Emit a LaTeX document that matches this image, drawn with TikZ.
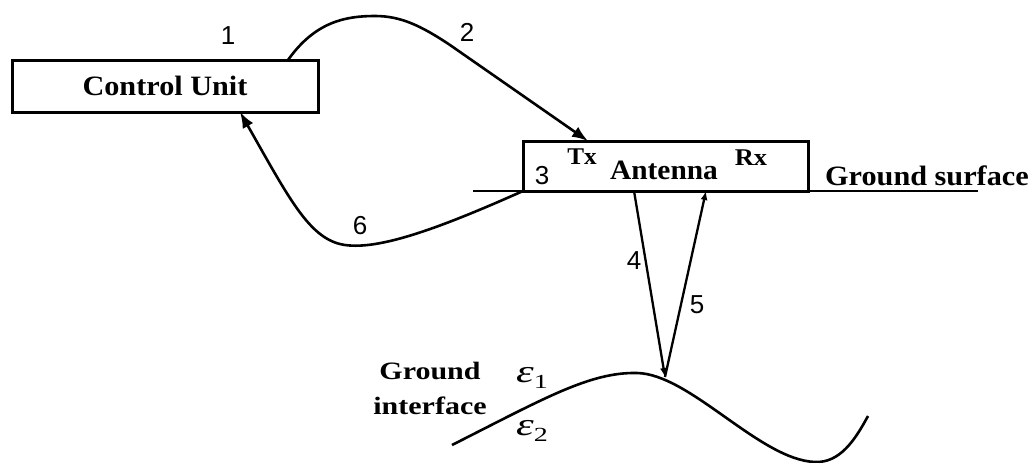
\documentclass[tikz,border=0pt]{standalone}
\usepackage{fontspec}
\setmainfont{Liberation Serif}
\newfontfamily\digitfont{Liberation Sans}
\usetikzlibrary{arrows.meta}
\newcommand{\wide}[2]{\scalebox{#1}[1]{#2}}
\newcommand{\perm}[1]{{\itshape ε}\raisebox{-6pt}{\fontsize{20}{22}\selectfont #1}}

\begin{document}
\begin{tikzpicture}[
    x=1pt, y=-1pt,
    wire/.style={draw=black, line width=2.6pt},
    sig/.style={wire, -{Latex[length=16pt,width=12pt]}},
    ray/.style={draw=black, line width=2.3pt, -{Latex[length=9pt,width=7pt]}},
    unit/.style={draw=black, line width=3pt, fill=white, outer sep=0pt, inner sep=0pt},
    head/.style={font=\fontsize{28}{32}\selectfont\bfseries},
    small/.style={font=\fontsize{24}{28}\selectfont\bfseries, inner sep=0pt},
    num/.style={font=\digitfont\fontsize{26}{30}\selectfont, inner sep=0pt},
    eps/.style={font=\fontsize{32}{36}\selectfont, inner sep=0pt, anchor=base west},
  ]
  \useasboundingbox (0,0) rectangle (1036,463);

  %% ground surface and the two units
  \coordinate (gsL) at (473,191);
  \coordinate (gsR) at (978,191);
  \draw[wire] (gsL) -- (gsR);
  \node[unit, head, minimum width=306pt, minimum height=52pt] (cu) at (165,86) {\wide{1.08}{Control Unit}};
  \node[unit, minimum width=285pt, minimum height=50pt] (ant) at (665.5,166) {};
  \node[head, inner sep=0pt, anchor=base] (antlbl) at (664,179) {\wide{1.05}{Antenna}};
  \node[small, anchor=base] (tx) at (582,164) {\wide{1.05}{Tx}};
  \node[small, anchor=base] (rx) at (751,165) {\wide{1.1}{Rx}};
  \node[head, inner sep=0pt, anchor=base west] (gslbl) at (825,185) {\wide{1.08}{Ground surface}};

  %% control unit -> antenna -> control unit
  \coordinate (cuout) at ([xshift=-30pt]cu.north east);
  \coordinate (antin) at ([xshift=65pt]ant.north west);
  \coordinate (cuin) at ([xshift=-78pt]cu.south east);
  \draw[sig] (cuout) .. controls (315,22) and (345,16) .. (375,16)
    .. controls (400,16) and (420,25) .. (450,45) -- (antin);
  \draw[sig] (ant.south west) .. controls (440,228) and (380,250) .. (345,245)
    .. controls (310,240) and (290,200) .. (cuin);

  %% down to the interface and back up
  \coordinate (refl) at (665,377);
  \coordinate (txpt) at ([xshift=-31.5pt]ant.south);
  \coordinate (rxpt) at ([xshift=40.5pt]ant.south);
  \draw[ray] (txpt) -- (refl);
  \draw[ray] (refl) -- (rxpt);

  %% ground interface
  \coordinate (giL) at (452,445);
  \coordinate (giR) at (868,416);
  \draw[wire] (giL) .. controls (545,398) and (590,372) .. (637,373)
    .. controls (690,374) and (760,460) .. (815,462)
    .. controls (840,463) and (855,440) .. (giR);
  \node[font=\fontsize{25}{35}\selectfont\bfseries, align=center, inner sep=0pt] (gilbl) at (430,388)
    {\wide{1.2}{Ground}\\\wide{1.2}{interface}};
  \node[eps] (eps1) at (516,382) {\wide{1.4}{\perm{1}}};
  \node[eps] (eps2) at (516,435) {\wide{1.4}{\perm{2}}};

  %% step numbers
  \node[num] (n1) at (228,36) {1};
  \node[num] (n2) at (467,32) {2};
  \node[num] (n3) at (542,176) {3};
  \node[num] (n4) at (634,261) {4};
  \node[num] (n5) at (697,305) {5};
  \node[num] (n6) at (360,226) {6};

\end{tikzpicture}
\end{document}
